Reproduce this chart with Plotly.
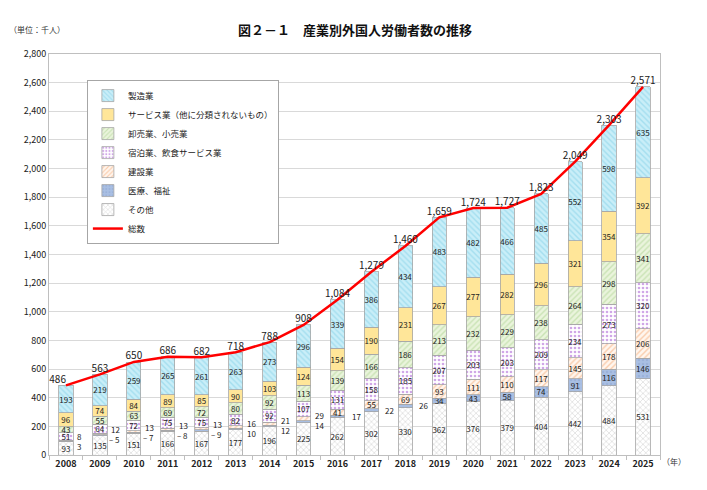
import plotly.graph_objects as go

# 年（X軸）
years = [str(y) for y in range(2008, 2026)]

# 産業別の外国人労働者数（千人）
seizo = [193, 219, 259, 265, 261, 263, 273, 296, 339, 386, 434, 483, 482, 466, 485, 552, 598, 635]
service = [96, 74, 84, 89, 85, 90, 103, 124, 154, 190, 231, 267, 277, 282, 296, 321, 354, 392]
oroshi = [43, 55, 63, 69, 72, 80, 92, 113, 139, 166, 186, 213, 232, 229, 238, 264, 298, 341]
shukuhaku = [51, 64, 72, 75, 75, 82, 92, 107, 131, 158, 185, 207, 203, 203, 209, 234, 273, 320]
kensetsu = [8, 12, 13, 13, 13, 16, 21, 29, 41, 55, 69, 93, 111, 110, 117, 145, 178, 206]
iryo = [3, 5, 7, 8, 9, 10, 12, 14, 17, 22, 26, 34, 43, 58, 74, 91, 116, 146]
sonota = [93, 135, 151, 166, 167, 177, 196, 225, 262, 302, 330, 362, 376, 379, 404, 442, 484, 531]
totals = [486, 563, 650, 686, 682, 718, 788, 908, 1084, 1279, 1460, 1659, 1724, 1727, 1823, 2049, 2303, 2571]

# 棒の外側にラベルを出す年数（小さい値）
kensetsu_outside = 8   # 2008-2015
iryo_outside = 11      # 2008-2018

font = "Noto Sans CJK JP"
edge = dict(color="#a6a6a6", width=0.8)

series = [
    # name, values, bg color, pattern shape, pattern color, rank
    ("その他", sonota, "#ffffff", "x", "#bdbdbd", 7),
    ("医療、福祉", iryo, "#a9bfe3", ".", "#8ea6d0", 6),
    ("建設業", kensetsu, "#fff6ee", "/", "#f4a36b", 5),
    ("宿泊業、飲食サービス業", shukuhaku, "#ffffff", ".", "#a24fd0", 4),
    ("卸売業、小売業", oroshi, "#eaf4dc", "/", "#a9d18e", 3),
    ("サービス業（他に分類されないもの）", service, "#ffe699", "", "#ffe699", 2),
    ("製造業", seizo, "#c9eef8", "\\", "#7fcde6", 1),
]

fig = go.Figure()

for name, vals, bg, shape, fg, rank in series:
    labels = [str(v) for v in vals]
    if name == "建設業":
        labels = [""] * kensetsu_outside + labels[kensetsu_outside:]
    if name == "医療、福祉":
        labels = [""] * iryo_outside + labels[iryo_outside:]
    fig.add_trace(go.Bar(
        x=years, y=vals, name=name, legendrank=rank,
        marker=dict(color=bg, line=edge,
                    pattern=dict(shape=shape, fgcolor=fg, size=4, solidity=0.35, fillmode="overlay")),
        text=labels, textposition="inside", insidetextanchor="middle", textangle=0,
        textfont=dict(size=8, color="#222222", family=font),
        hoverinfo="skip",
    ))

fig.add_trace(go.Scatter(
    x=years, y=totals, name="総数", legendrank=8, mode="lines+text",
    line=dict(color="#ff0000", width=2.5),
    text=[f"{v:,}" for v in totals],
    textposition=["top left"] + ["top center"] * (len(totals) - 1),
    textfont=dict(size=10, color="#222222", family=font),
    cliponaxis=False,
))

# 小さい値のラベル（棒の右側）、x はカテゴリの番号で指定
for i in range(iryo_outside):
    base = sonota[i] + iryo[i]
    if i < kensetsu_outside:
        fig.add_annotation(x=i, y=base, text=str(kensetsu[i]), showarrow=False,
                           xanchor="left", xshift=9, yshift=5,
                           font=dict(size=8, color="#222222", family=font))
        pre = "– " if 1 <= i <= 4 else ""
        fig.add_annotation(x=i, y=base, text=pre + str(iryo[i]), showarrow=False,
                           xanchor="left", xshift=9 if not pre else 7, yshift=-5,
                           font=dict(size=8, color="#222222", family=font))
    else:
        fig.add_annotation(x=i, y=sonota[i] + iryo[i] / 2, text=str(iryo[i]), showarrow=False,
                           xanchor="left", xshift=12,
                           font=dict(size=8, color="#222222", family=font))

fig.add_annotation(xref="paper", yref="paper", x=0.5, y=1.0, yshift=36, showarrow=False,
                   text="<b>図２－１　産業別外国人労働者数の推移</b>",
                   font=dict(size=13, color="#111111", family=font))
fig.add_annotation(xref="paper", yref="paper", x=-0.068, y=1.0, yshift=32, xanchor="left", showarrow=False,
                   text="（単位：千人）", font=dict(size=8, color="#333333", family=font))
fig.add_annotation(xref="paper", yref="paper", x=1.0, y=0, yshift=-14, xanchor="left", showarrow=False,
                   text="（年）", font=dict(size=8, color="#333333", family=font))

fig.update_layout(
    width=699, height=482,
    margin=dict(l=41, r=47, t=46, b=35),
    barmode="stack", bargap=0.58,
    plot_bgcolor="white", paper_bgcolor="white",
    font=dict(family=font, color="#222222"),
    uniformtext=dict(minsize=8, mode="show"),
    showlegend=True,
    legend=dict(x=0.062, y=0.935, xanchor="left", yanchor="top", traceorder="normal",
                bgcolor="white", bordercolor="#a6a6a6", borderwidth=1,
                font=dict(size=8.5, family=font), tracegroupgap=0, itemwidth=30),
    xaxis=dict(type="category", range=[-0.5, len(years) - 0.5], showline=True, linecolor="#bfbfbf", mirror=True,
               ticks="outside", tickson="boundaries", ticklen=4, tickcolor="#bfbfbf",
               tickfont=dict(size=9, color="#222222", weight="bold"), showgrid=False),
    yaxis=dict(range=[0, 2800], dtick=200, tickformat=",", showgrid=True, gridcolor="#d9d9d9",
               showline=True, linecolor="#bfbfbf", mirror=True, zeroline=False,
               tickfont=dict(size=9, color="#222222")),
)

fig.write_html("out.html")
